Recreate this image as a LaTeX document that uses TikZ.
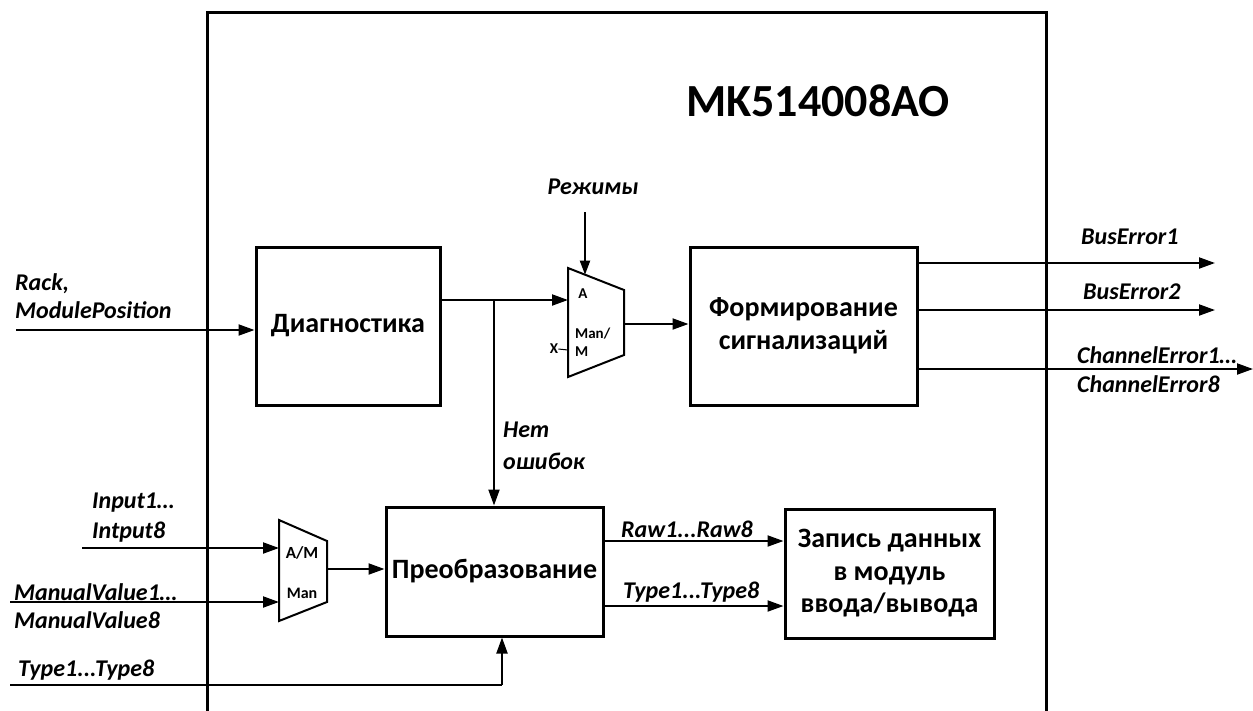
\documentclass[tikz,border=0pt]{standalone}
\usepackage{fontspec}
\setmainfont{Carlito}
\usetikzlibrary{arrows.meta}
\begin{document}
\begin{tikzpicture}[x=1pt,y=-1pt,
  box/.style={draw,line width=3pt,font=\bfseries\fontsize{28}{32.5}\selectfont,align=center,inner sep=0pt},
  lab/.style={font=\bfseries\itshape\fontsize{24}{28}\selectfont,inner sep=0pt},
  muxlab/.style={font=\bfseries\fontsize{15}{18}\selectfont,inner sep=0pt},
  sig/.style={line width=2pt,-{Triangle[length=16pt,width=11pt]}},
  wire/.style={line width=2pt},
  muxbody/.style={line width=2pt,line join=miter},
]
\useasboundingbox (0,0) rectangle (1253,710);
% outer module frame (open at bottom)
\draw[line width=3pt] (207,720) -- (207,12) -- (1046,12) -- (1046,720);
\node[font=\bfseries\fontsize{46}{52}\selectfont,inner sep=0pt] (title) at (818,101) {MK514008AO};

% blocks
\node[box,minimum width=184pt,minimum height=158pt] (diag) at (348,326) {Диагностика};
\node[box,minimum width=227pt,minimum height=158pt] (form) at (803.5,326) {Формирование\\сигнализаций};
\node[box,minimum width=217pt,minimum height=129pt] (preob) at (494.5,571.5) {Преобразование};
\node[box,minimum width=209pt,minimum height=129pt] (zap) at (889.5,573.5) {Запись данных\\в модуль\\ввода/вывода};

% mux 1
\draw[muxbody] (568,268) -- (624,290) -- (624,355) -- (568,377) -- cycle;
\coordinate (m1a) at (568,300);
\coordinate (m1x) at (568,350);
\coordinate (m1out) at (624,324);
\coordinate (m1sel) at (585,274.7);
\node[muxlab] (m1la) at (583,294) {A};
\node[muxlab,align=left,anchor=west] (m1lm) at (575,342) {Man/\\M};
\node[muxlab] (xl) at (554,349) {X};
\draw[line width=1pt] (xl.east) -- (m1x);
\node[lab] (rez) at (593,187) {Режимы};
\coordinate (rezs) at (585,212);
\draw[sig,-{Triangle[length=14pt,width=10pt]}] (rezs) -- (m1sel);

% mux 2
\draw[muxbody] (279,520) -- (327,541) -- (327,602) -- (279,621) -- cycle;
\coordinate (m2a) at (279,548);
\coordinate (m2b) at (279,602);
\coordinate (m2out) at (327,569);
\node[muxlab,font=\bfseries\fontsize{17}{20}\selectfont] (m2la) at (302,553) {A/M};
\node[muxlab,font=\bfseries\fontsize{16}{20}\selectfont] (m2lm) at (302,593) {Man};

% left inputs
\node[lab,anchor=west,align=left] (rack) at (15,296) {Rack,\\ModulePosition};
\coordinate (rackin) at (16,330);
\draw[sig] (rackin) -- (diag.west |- rackin);

\node[lab,anchor=west] (in1l) at (92,503) {Input1…};
\node[lab,anchor=west] (in8l) at (92,532) {Intput8};
\coordinate (inp) at (82,548);
\draw[sig] (inp) -- (m2a);

\node[lab,anchor=west] (mv1l) at (14,592) {ManualValue1…};
\node[lab,anchor=west] (mv8l) at (14,620) {ManualValue8};
\coordinate (mvin) at (10,602);
\draw[sig] (mvin) -- (m2b);

\node[lab,anchor=west] (tyl) at (18,670) {Type1...Type8};
\coordinate (tyin) at (10,685);
\coordinate (tyc) at (502,685);
\draw[wire] (tyin) -- (tyc);
\draw[sig] (tyc) -- (preob.south -| tyc);

% internal connections
\draw[sig] (diag.east |- m1a) -- (m1a);
\coordinate (j) at (494,300);
\draw[sig] (j) -- (preob.north -| j);
\node[lab,anchor=west] (net) at (503,430) {Нет};
\node[lab,anchor=west] (osh) at (503,461) {ошибок};
\draw[sig] (m1out) -- (form.west |- m1out);
\draw[sig] (m2out) -- (preob.west |- m2out);

\coordinate (ry) at (0,541);
\coordinate (ty) at (0,606);
\draw[sig] (preob.east |- ry) -- (zap.west |- ry);
\draw[sig] (preob.east |- ty) -- (zap.west |- ty);
\node[lab,anchor=west] (rawl) at (621,529) {Raw1...Raw8};
\node[lab,anchor=west] (typl) at (623,592) {Type1...Type8};

% outputs
\coordinate (o1) at (1215,263);
\coordinate (o2) at (1215,310);
\coordinate (o3) at (1253,369);
\draw[sig] (form.east |- o1) -- (o1);
\draw[sig] (form.east |- o2) -- (o2);
\draw[sig] (form.east |- o3) -- (o3);
\node[lab,anchor=west] (be1) at (1081,237) {BusError1};
\node[lab,anchor=west] (be2) at (1083,292) {BusError2};
\node[lab,anchor=west] (ce1) at (1077,355) {ChannelError1…};
\node[lab,anchor=west] (ce8) at (1077,384) {ChannelError8};
\end{tikzpicture}
\end{document}
